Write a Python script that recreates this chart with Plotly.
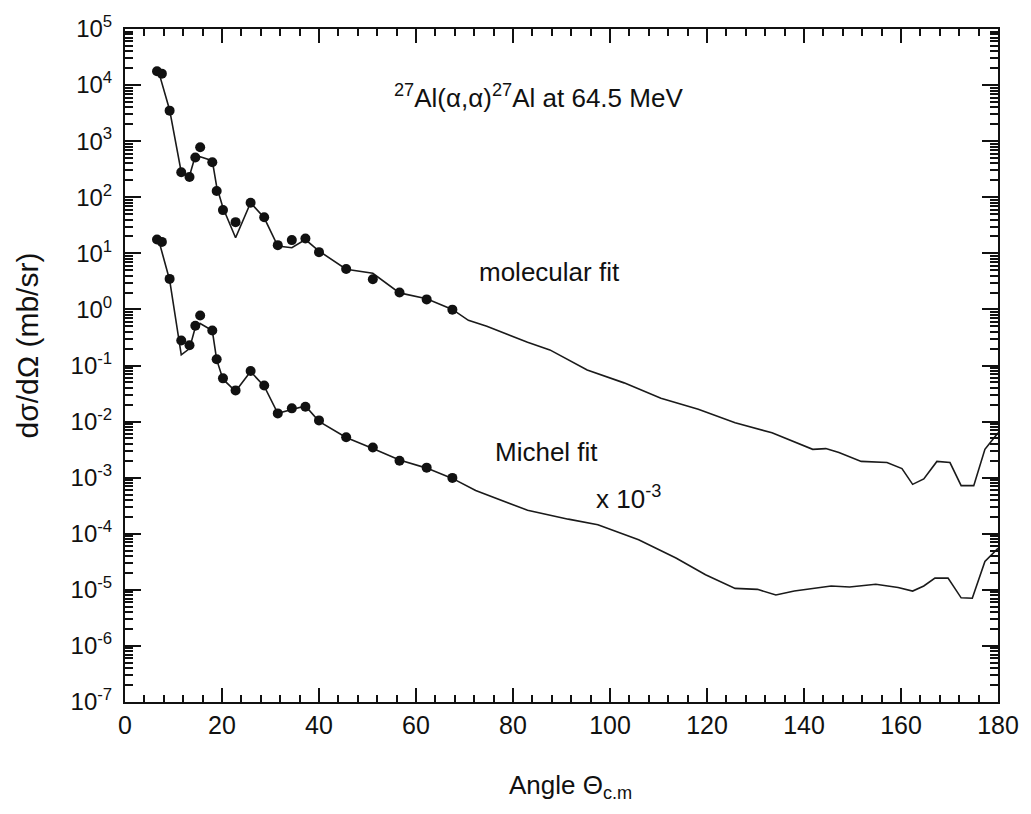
import plotly.graph_objects as go

# ---------------- data ----------------
# experimental angles (deg, c.m.) and cross sections (mb/sr)
exp_angle = [6.6, 7.6, 9.2, 11.6, 13.3, 14.5, 15.5, 18.0, 18.9, 20.2, 22.8,
             25.9, 28.7, 31.5, 34.4, 37.2, 40.0, 45.6, 51.1, 56.6, 62.2, 67.5]
exp_sigma = [1.76e4, 1.6e4, 3.5e3, 280, 230, 510, 780, 420, 129, 59, 36,
             80, 44, 14, 17.2, 18.4, 10.5, 5.25, 3.44, 2.0, 1.51, 0.99]

# molecular fit
mol_angle = [7.0, 9.2, 11.6, 13.3, 14.5, 15.5, 18.0, 18.9, 20.2, 22.8, 25.9,
             28.7, 31.5, 34.4, 37.2, 40.0, 45.6, 51.1, 56.6, 62.2, 67.5, 70.8,
             74.6, 83.0, 87.6, 95.3, 102.9, 110.5, 118.2, 125.8, 133.4, 137.3,
             141.8, 144.5, 147.2, 151.8, 157.1, 160.2, 162.4, 164.7, 167.4,
             170.1, 172.4, 175.0, 177.3, 180.0]
mol_sigma = [1.65e4, 3.6e3, 280, 240, 550, 525, 450, 155, 65, 19, 80,
             43, 13.5, 12.6, 17.6, 11, 5.2, 4.4, 1.97, 1.55, 1.0, 0.64,
             0.50, 0.26, 0.19, 0.083, 0.049, 0.026, 0.0166, 0.0095, 0.0063, 0.0046,
             0.0032, 0.0033, 0.0028, 0.00195, 0.00186, 0.00145, 0.00076, 0.00095, 0.00195,
             0.00186, 0.00072, 0.00072, 0.0032, 0.0063]

# Michel fit (unscaled values; plotted x 10^-3)
mich_angle = [7.0, 9.2, 11.6, 13.3, 14.5, 15.5, 18.0, 18.9, 20.2, 22.8, 25.9,
              28.7, 31.5, 34.4, 37.2, 40.0, 45.6, 51.1, 56.6, 62.2, 67.5, 72.3,
              83.0, 91.4, 97.5, 105.9, 113.6, 119.7, 125.8, 130.4, 134.2, 138.0,
              145.6, 149.4, 154.8, 159.4, 162.4, 164.7, 167.0, 169.7, 172.4,
              174.7, 177.3, 180.0]
mich_sigma = [16500, 3350, 155, 200, 480, 560, 420, 127, 57, 34.7, 78,
              42.7, 14, 16.5, 19, 10.1, 5.2, 3.3, 2.06, 1.48, 0.97, 0.59,
              0.263, 0.182, 0.145, 0.078, 0.037, 0.0186, 0.0106, 0.0102, 0.0081, 0.0095,
              0.0117, 0.0112, 0.0126, 0.011, 0.0095, 0.0117, 0.0162, 0.0162, 0.0072,
              0.0071, 0.032, 0.055]
michel_scale = 1e-3

x_tick_vals = [0, 20, 40, 60, 80, 100, 120, 140, 160, 180]
y_exponents = [5, 4, 3, 2, 1, 0, -1, -2, -3, -4, -5, -6, -7]

# ---------------- figure ----------------
FONT = "Liberation Sans, Arial, Helvetica, sans-serif"
INK = "#111111"

mich_plot = [v * michel_scale for v in mich_sigma]
exp_low = [v * michel_scale for v in exp_sigma]

fig = go.Figure()
fig.add_trace(go.Scatter(x=mol_angle, y=mol_sigma, mode="lines",
                         line=dict(color="#1a1a1a", width=1.6), showlegend=False))
fig.add_trace(go.Scatter(x=mich_angle, y=mich_plot, mode="lines",
                         line=dict(color="#1a1a1a", width=1.6), showlegend=False))
fig.add_trace(go.Scatter(x=exp_angle, y=exp_sigma, mode="markers",
                         marker=dict(color=INK, size=10), showlegend=False))
fig.add_trace(go.Scatter(x=exp_angle, y=exp_low, mode="markers",
                         marker=dict(color=INK, size=10), showlegend=False))

minor_y = [m * 10.0 ** k for k in range(-7, 5) for m in range(2, 10)]

fig.update_layout(
    width=1031, height=814,
    margin=dict(l=125, r=29, t=23, b=112),
    paper_bgcolor="white", plot_bgcolor="white",
    font=dict(family=FONT, color=INK),
    xaxis=dict(range=[0, 180], tickmode="array", tickvals=x_tick_vals,
               ticktext=[str(v) for v in x_tick_vals],
               ticks="inside", ticklen=14, tickwidth=2, tickcolor=INK,
               minor=dict(dtick=4, tick0=0, ticks="inside", ticklen=7,
                          tickwidth=1.5, tickcolor=INK, showgrid=False),
               showline=True, linewidth=2, linecolor=INK, mirror="ticks",
               showgrid=False, zeroline=False,
               tickfont=dict(size=25)),
    yaxis=dict(type="log", range=[-7, 5], tickmode="array",
               tickvals=[10.0 ** e for e in y_exponents],
               ticktext=["10<sup>%d</sup>" % e for e in y_exponents],
               ticks="inside", ticklen=16, tickwidth=2, tickcolor=INK,
               minor=dict(tickmode="array", tickvals=minor_y, ticks="inside",
                          ticklen=8, tickwidth=1.5, tickcolor=INK,
                          showgrid=False),
               showline=True, linewidth=2, linecolor=INK, mirror="ticks",
               showgrid=False, zeroline=False, ticklabelstandoff=6,
               tickfont=dict(size=24)),
)

ann = [
    dict(text="<sup>27</sup>Al(α,α)<sup>27</sup>Al at 64.5 MeV", x=85.2, y=3.80,
         font=dict(size=26)),
    dict(text="molecular fit", x=87.5, y=0.67, font=dict(size=26)),
    dict(text="Michel fit", x=86.9, y=-2.55, font=dict(size=26)),
    dict(text="x 10<sup>-3</sup>", x=103.9, y=-3.36, font=dict(size=26)),
]
for a in ann:
    fig.add_annotation(xref="x", yref="y", showarrow=False,
                       xanchor="center", yanchor="middle", **a)

fig.add_annotation(text="dσ/dΩ (mb/sr)", xref="paper", yref="paper",
                   x=-0.112, y=0.53, textangle=-90, showarrow=False,
                   xanchor="center", yanchor="middle", font=dict(size=30))
fig.add_annotation(text="Angle Θ<sub>c.m</sub>", xref="paper", yref="paper",
                   x=0.51, y=-0.125, showarrow=False,
                   xanchor="center", yanchor="middle", font=dict(size=26))

fig.write_html("out.html")
